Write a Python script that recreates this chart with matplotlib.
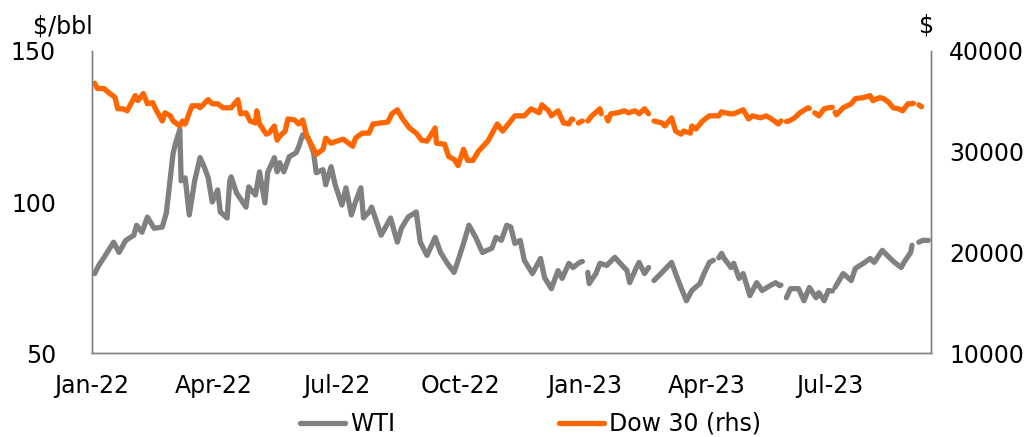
import numpy as np
import pandas as pd
import matplotlib
matplotlib.use("Agg")
import matplotlib.pyplot as plt
import matplotlib.dates as mdates

nan = np.nan

# WTI crude, $/bbl (left axis)
wti_dates = [
    "2022-01-03", "2022-01-06", "2022-01-10", "2022-01-17", "2022-01-21", "2022-01-26",
    "2022-02-01", "2022-02-03", "2022-02-07", "2022-02-11", "2022-02-16", "2022-02-22",
    "2022-02-25", "2022-02-28", "2022-03-02", "2022-03-04", "2022-03-07", "2022-03-08",
    "2022-03-11", "2022-03-14", "2022-03-18", "2022-03-22", "2022-03-25", "2022-03-28",
    "2022-03-31", "2022-04-04", "2022-04-06", "2022-04-11", "2022-04-13", "2022-04-14",
    "2022-04-18", "2022-04-25", "2022-04-27", "2022-05-02", "2022-05-05", "2022-05-09",
    "2022-05-11", "2022-05-16", "2022-05-18", "2022-05-20", "2022-05-23", "2022-05-27",
    "2022-06-01", "2022-06-03", "2022-06-06", "2022-06-10", "2022-06-14", "2022-06-16",
    "2022-06-21", "2022-06-23", "2022-06-27", "2022-06-30", "2022-07-05", "2022-07-08",
    "2022-07-12", "2022-07-15", "2022-07-19", "2022-07-21", "2022-07-25", "2022-07-27",
    "2022-08-03", "2022-08-10", "2022-08-15", "2022-08-18", "2022-08-23", "2022-08-29",
    "2022-09-01", "2022-09-06", "2022-09-12", "2022-09-16", "2022-09-21", "2022-09-26",
    "2022-09-29", "2022-10-03", "2022-10-07", "2022-10-12", "2022-10-17", "2022-10-24",
    "2022-10-27", "2022-10-31", "2022-11-04", "2022-11-07", "2022-11-10", "2022-11-14",
    "2022-11-17", "2022-11-23", "2022-11-29", "2022-12-02", "2022-12-07", "2022-12-12",
    "2022-12-15", "2022-12-20", "2022-12-23", "2022-12-28", "2022-12-30", "2023-01-02",
    "2023-01-03", "2023-01-04", "2023-01-09", "2023-01-12", "2023-01-17", "2023-01-23",
    "2023-01-27", "2023-02-01", "2023-02-03", "2023-02-08", "2023-02-10", "2023-02-14",
    "2023-02-17", "2023-02-20", "2023-02-21", "2023-02-27", "2023-03-06", "2023-03-09",
    "2023-03-13", "2023-03-17", "2023-03-21", "2023-03-27", "2023-03-30", "2023-04-03",
    "2023-04-06", "2023-04-07", "2023-04-10", "2023-04-12", "2023-04-14", "2023-04-19",
    "2023-04-21", "2023-04-25", "2023-04-28", "2023-05-03", "2023-05-08", "2023-05-12",
    "2023-05-18", "2023-05-22", "2023-05-25", "2023-05-26", "2023-05-29", "2023-05-30",
    "2023-06-02", "2023-06-08", "2023-06-12", "2023-06-16", "2023-06-21", "2023-06-23",
    "2023-06-27", "2023-06-30", "2023-07-03", "2023-07-04", "2023-07-05", "2023-07-11",
    "2023-07-17", "2023-07-20", "2023-07-26", "2023-07-31", "2023-08-03", "2023-08-09",
    "2023-08-14", "2023-08-18", "2023-08-23", "2023-08-25", "2023-08-30", "2023-08-31",
    "2023-09-04", "2023-09-05", "2023-09-08", "2023-09-12",
]
wti_values = [
    76.3, 79.0, 81.7, 86.7, 83.3, 87.3,
    89.0, 92.3, 90.0, 95.0, 91.3, 91.7,
    96.3, 108.0, 116.0, 119.7, 124.0, 107.0,
    108.0, 95.7, 107.0, 114.7, 111.7, 108.0,
    100.0, 104.0, 96.7, 94.7, 107.0, 108.3,
    103.0, 98.3, 105.0, 102.3, 110.0, 99.7,
    109.7, 114.7, 110.0, 113.0, 110.0, 115.0,
    116.3, 118.3, 122.3, 121.3, 116.3, 109.7,
    110.7, 105.7, 111.7, 105.7, 99.0, 104.7,
    95.7, 100.0, 104.7, 94.7, 96.7, 98.3,
    89.0, 94.7, 86.7, 91.3, 95.0, 96.7,
    86.7, 82.3, 88.3, 83.3, 79.7, 76.7,
    80.7, 86.3, 92.3, 88.3, 83.3, 84.7,
    88.3, 87.3, 92.3, 91.7, 86.3, 87.3,
    80.7, 76.3, 81.3, 75.0, 71.3, 77.3,
    74.7, 79.7, 78.3, 80.0, 80.3, nan,
    76.7, 73.0, 76.3, 79.7, 79.0, 81.7,
    79.7, 77.3, 73.3, 78.3, 80.0, 76.3,
    78.3, nan, 74.0, 76.7, 80.0, 76.3,
    71.7, 67.3, 70.7, 73.0, 76.3, 80.0,
    80.7, nan, 81.5, 83.0, 81.3, 78.3,
    79.7, 74.7, 76.3, 69.0, 73.3, 70.7,
    72.3, 73.3, 72.3, 72.5, nan, 68.3,
    71.3, 71.3, 67.3, 71.7, 68.3, 70.0,
    67.3, 70.7, 70.5, nan, 71.7, 76.3,
    74.0, 78.0, 79.7, 81.3, 80.0, 84.0,
    81.7, 80.0, 78.3, 80.0, 83.3, 85.7,
    nan, 86.7, 87.3, 87.3,
]

# Dow Jones Industrial Average, $ (right axis)
dow_dates = [
    "2022-01-03", "2022-01-05", "2022-01-10", "2022-01-13", "2022-01-18", "2022-01-20",
    "2022-01-24", "2022-01-27", "2022-01-31", "2022-02-02", "2022-02-04", "2022-02-08",
    "2022-02-11", "2022-02-15", "2022-02-17", "2022-02-22", "2022-02-24", "2022-02-28",
    "2022-03-02", "2022-03-07", "2022-03-09", "2022-03-11", "2022-03-16", "2022-03-21",
    "2022-03-22", "2022-03-28", "2022-03-31", "2022-04-04", "2022-04-08", "2022-04-13",
    "2022-04-14", "2022-04-19", "2022-04-21", "2022-04-25", "2022-04-28", "2022-05-02",
    "2022-05-03", "2022-05-05", "2022-05-10", "2022-05-12", "2022-05-16", "2022-05-18",
    "2022-05-20", "2022-05-24", "2022-05-26", "2022-05-31", "2022-06-03", "2022-06-06",
    "2022-06-09", "2022-06-13", "2022-06-16", "2022-06-21", "2022-06-23", "2022-06-27",
    "2022-07-01", "2022-07-06", "2022-07-13", "2022-07-15", "2022-07-20", "2022-07-25",
    "2022-07-28", "2022-08-03", "2022-08-08", "2022-08-11", "2022-08-15", "2022-08-19",
    "2022-08-24", "2022-08-29", "2022-09-02", "2022-09-06", "2022-09-12", "2022-09-13",
    "2022-09-19", "2022-09-22", "2022-09-26", "2022-09-29", "2022-10-03", "2022-10-06",
    "2022-10-10", "2022-10-14", "2022-10-21", "2022-10-28", "2022-11-01", "2022-11-04",
    "2022-11-10", "2022-11-14", "2022-11-17", "2022-11-22", "2022-11-28", "2022-11-30",
    "2022-12-05", "2022-12-07", "2022-12-12", "2022-12-16", "2022-12-20", "2022-12-22",
    "2022-12-23", "2022-12-26", "2022-12-27", "2022-12-30", "2023-01-02", "2023-01-03",
    "2023-01-06", "2023-01-12", "2023-01-13", "2023-01-16", "2023-01-17", "2023-01-18",
    "2023-01-20", "2023-01-25", "2023-01-30", "2023-02-02", "2023-02-07", "2023-02-10",
    "2023-02-14", "2023-02-17", "2023-02-20", "2023-02-21", "2023-02-27", "2023-03-01",
    "2023-03-06", "2023-03-09", "2023-03-13", "2023-03-15", "2023-03-20", "2023-03-21",
    "2023-03-24", "2023-03-29", "2023-04-03", "2023-04-10", "2023-04-12", "2023-04-18",
    "2023-04-21", "2023-04-28", "2023-05-02", "2023-05-05", "2023-05-11", "2023-05-15",
    "2023-05-19", "2023-05-24", "2023-05-26", "2023-05-29", "2023-05-30", "2023-06-01",
    "2023-06-05", "2023-06-09", "2023-06-15", "2023-06-16", "2023-06-19", "2023-06-20",
    "2023-06-23", "2023-06-27", "2023-06-30", "2023-07-03", "2023-07-04", "2023-07-05",
    "2023-07-06", "2023-07-11", "2023-07-17", "2023-07-20", "2023-07-26", "2023-07-31",
    "2023-08-02", "2023-08-07", "2023-08-10", "2023-08-14", "2023-08-17", "2023-08-21",
    "2023-08-24", "2023-08-28", "2023-08-31", "2023-09-01", "2023-09-04", "2023-09-05",
    "2023-09-06", "2023-09-07",
]
dow_values = [
    36800, 36270, 36270, 35900, 35400, 34260,
    34260, 34060, 35070, 35570, 35070, 35770,
    34760, 34870, 34260, 33050, 33860, 33560,
    33050, 32550, 33050, 32750, 34560, 34560,
    34360, 35170, 34760, 34760, 34360, 34360,
    34360, 35170, 33760, 33860, 33050, 32850,
    34060, 32750, 31740, 31840, 32550, 31140,
    31540, 32050, 33250, 33150, 32750, 33150,
    31540, 30540, 29730, 30240, 31340, 30840,
    31040, 31240, 30540, 31340, 31840, 31840,
    32750, 32850, 32950, 33760, 34160, 33250,
    32350, 31840, 31140, 31040, 32350, 30840,
    30740, 29530, 29230, 28620, 30240, 29130,
    29130, 30040, 31040, 32750, 32050, 32550,
    33560, 33560, 33560, 34260, 33860, 34660,
    34060, 33560, 34060, 32850, 32750, 33250,
    33200, nan, 32850, 33050, nan, 33050,
    33560, 34260, 33760, nan, 33400, 33050,
    33760, 33860, 34060, 33860, 34060, 33760,
    34260, 33760, nan, 33050, 32850, 32550,
    33360, 32050, 31740, 32050, 31840, 32550,
    32250, 33050, 33560, 33560, 33960, 33760,
    33760, 34160, 33250, 33560, 33360, 33560,
    33250, 32750, 33050, nan, 33000, 33050,
    33360, 33860, 34360, 34300, nan, 33860,
    33560, 34260, 34360, 34400, nan, 33900,
    33660, 34360, 34760, 35270, 35370, 35570,
    35070, 35370, 35270, 34870, 34360, 34260,
    34060, 34760, 34760, 34800, nan, 34650,
    34560, 34460,
]

month_ticks = ["2022-01-01", "2022-04-01", "2022-07-01", "2022-10-01",
               "2023-01-01", "2023-04-01", "2023-07-01"]

wti_x = pd.to_datetime(wti_dates)
dow_x = pd.to_datetime(dow_dates)

grey = "#808080"
orange = "#FF6600"
fs = 17

fig = plt.figure(figsize=(10.36, 4.37), dpi=100)
ax = fig.add_axes([0.0888, 0.1922, 0.8098, 0.6911])
ax2 = ax.twinx()

l1, = ax.plot(wti_x, wti_values, color=grey, lw=3.8, label="WTI",
              solid_capstyle="round", solid_joinstyle="round")
l2, = ax2.plot(dow_x, dow_values, color=orange, lw=3.8, label="Dow 30 (rhs)",
               solid_capstyle="round", solid_joinstyle="round")

ax.set_ylim(50, 150)
ax.set_yticks([50, 100, 150])
ax2.set_ylim(10000, 40000)
ax2.set_yticks([10000, 20000, 30000, 40000])
ax.set_xlim(pd.Timestamp("2022-01-02"), pd.Timestamp("2023-09-14"))
ax.set_xticks(pd.to_datetime(month_ticks))
ax.xaxis.set_major_formatter(mdates.DateFormatter("%b-%y"))

for a in (ax, ax2):
    a.spines["top"].set_visible(False)
    for s in ("left", "right", "bottom"):
        a.spines[s].set_color(grey)
        a.spines[s].set_linewidth(1.0)
    a.tick_params(length=0, labelsize=fs, colors="black")
ax.tick_params(axis="y", pad=26)
ax.tick_params(axis="x", pad=15)
ax2.tick_params(axis="y", pad=13)

ax.text(-0.035, 1.08, "$/bbl", transform=ax.transAxes, fontsize=fs,
        ha="center", va="center")
ax2.text(0.995, 1.085, "$", transform=ax.transAxes, fontsize=fs,
         ha="center", va="center")

fig.legend(handles=[l1, l2], loc="center", bbox_to_anchor=(0.512, 0.03),
           ncol=2, frameon=False, fontsize=fs, handlelength=1.9,
           handletextpad=0.2, columnspacing=6.95)

fig.savefig("out.png", dpi=100)
